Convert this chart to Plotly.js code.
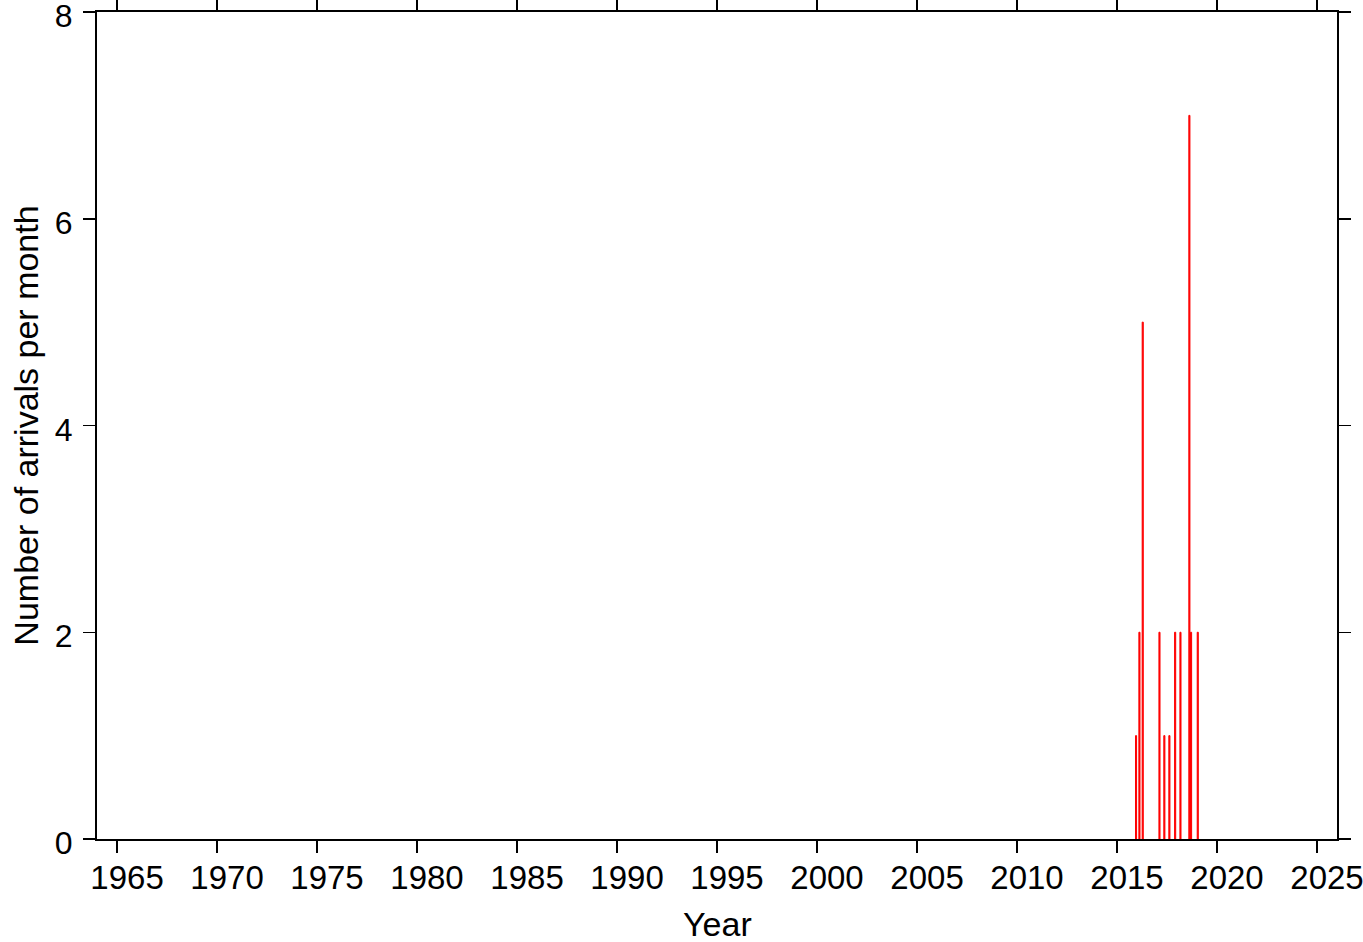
<!DOCTYPE html>
<html>
<head>
<meta charset="utf-8">
<script src="https://cdn.plot.ly/plotly-3.0.1.min.js"></script>
<style>html,body{margin:0;padding:0;background:#fff;}#chart{width:1363px;height:942px;}</style>
</head>
<body>
<div id="chart"></div>
<script>
// Monthly arrival counts (month, count)
const months = ["2015-12-15","2016-02-15","2016-04-15","2017-02-15","2017-05-15","2017-08-15","2017-11-28","2018-03-05","2018-08-15","2018-09-15","2019-01-15"];
const counts = [1,2,5,2,1,1,2,2,7,2,2];
const xTitle = 'Year';
const yTitle = 'Number of arrivals per month';

const monthWidthMs = 20 * 24 * 3600 * 1000;

const trace = {
  type: 'bar',
  x: months,
  y: counts,
  width: months.map(() => monthWidthMs),
  marker: {color: 'rgb(255,0,0)', line: {width: 1, color: 'rgb(255,0,0)'}},
  hoverinfo: 'x+y'
};

const fontFam = '"Liberation Sans", Arial, Helvetica, sans-serif';

const layout = {
  width: 1363,
  height: 942,
  margin: {l: 97, r: 26, t: 12, b: 103},
  paper_bgcolor: '#fff',
  plot_bgcolor: '#fff',
  showlegend: false,
  bargap: 0,
  font: {family: fontFam, size: 32, color: '#000'},
  xaxis: {
    type: 'date',
    range: ['1964-01-01', '2026-01-01'],
    tick0: '1965-01-01',
    dtick: 'M60',
    tickformat: '%Y',
    ticklabelshift: 10,
    ticklabelstandoff: -4,
    ticklabeloverflow: 'allow',
    ticks: 'outside',
    ticklen: 12,
    tickwidth: 1.5,
    tickcolor: '#000',
    showline: true,
    linewidth: 2,
    linecolor: '#000',
    mirror: 'ticks',
    showgrid: false,
    zeroline: false,
    tickfont: {family: fontFam, size: 33, color: '#000'}
  },
  yaxis: {
    range: [0, 8],
    tick0: 0,
    dtick: 2,
    ticklabelshift: 4,
    ticklabelstandoff: 4,
    ticklabeloverflow: 'allow',
    ticks: 'outside',
    ticklen: 12,
    tickwidth: 1.5,
    tickcolor: '#000',
    showline: true,
    linewidth: 2,
    linecolor: '#000',
    mirror: 'ticks',
    showgrid: false,
    zeroline: false,
    tickfont: {family: fontFam, size: 32, color: '#000'},
    title: {text: yTitle, font: {family: fontFam, size: 34, color: '#000'}, standoff: 6}
  },
  annotations: [{
    text: xTitle,
    xref: 'paper', yref: 'paper',
    x: 0.5, y: 0,
    xanchor: 'center', yanchor: 'top',
    yshift: -64,
    showarrow: false,
    font: {family: fontFam, size: 34, color: '#000'}
  }]
};

Plotly.newPlot('chart', [trace], layout, {displayModeBar: false, staticPlot: true});
</script>
</body>
</html>
